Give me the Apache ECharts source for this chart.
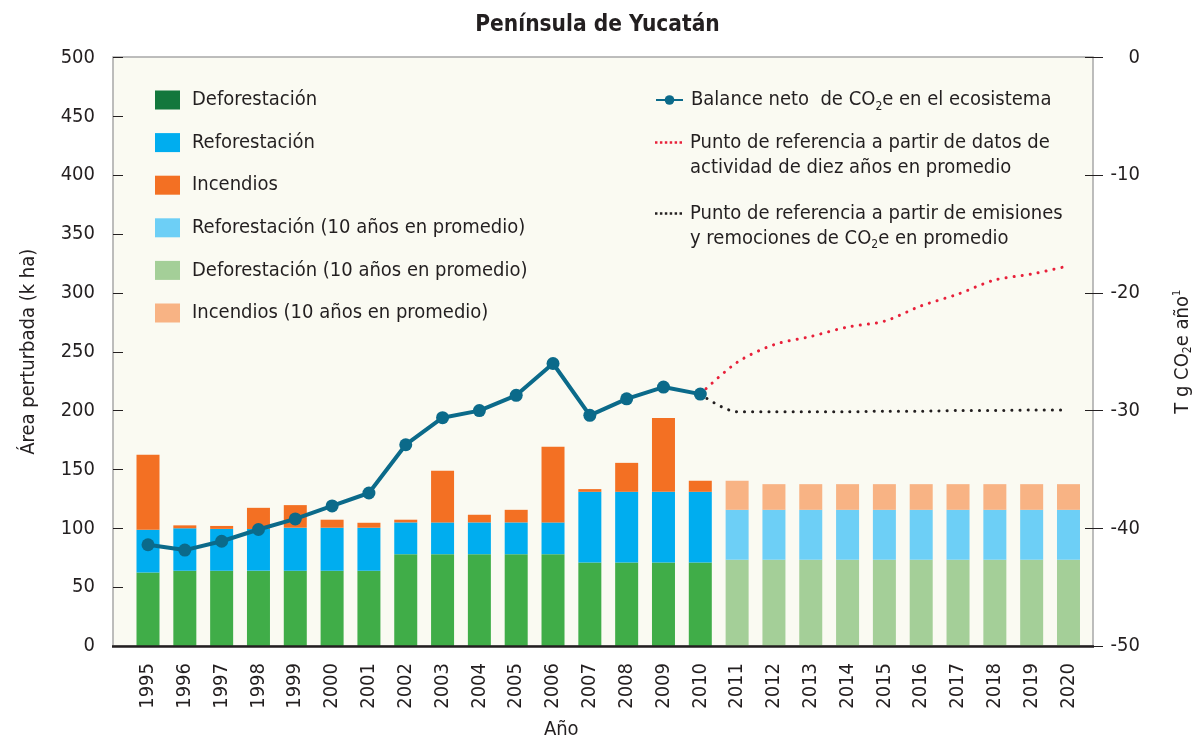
<!DOCTYPE html>
<html><head><meta charset="utf-8">
<script src="https://cdn.jsdelivr.net/npm/echarts@6/dist/echarts.min.js"></script>
<style>html,body{margin:0;padding:0;background:#fff}#c{width:1195px;height:740px}</style>
</head><body><div id="c"></div>
<script>
const years = ['1995','1996','1997','1998','1999','2000','2001','2002','2003','2004','2005','2006','2007','2008','2009','2010','2011','2012','2013','2014','2015','2016','2017','2018','2019','2020'];
const deforestacion = [62.5,64,64,64,64,64,64,78,78,78,78,78,71,71,71,71,null,null,null,null,null,null,null,null,null,null];
const reforestacion = [36.2,36,35.5,35.4,36.5,36.5,36.5,27,27,27,27,27,60,60,60,60,null,null,null,null,null,null,null,null,null,null];
const incendios = [63.7,2.5,2.5,18,19.2,6.8,4.2,2.3,43.8,6.5,10.7,64.2,2.3,24.6,62.8,9.4,null,null,null,null,null,null,null,null,null,null];
const deforestacionProm = [null,null,null,null,null,null,null,null,null,null,null,null,null,null,null,null,73.3,73.3,73.3,73.3,73.3,73.3,73.3,73.3,73.3,73.3];
const reforestacionProm = [null,null,null,null,null,null,null,null,null,null,null,null,null,null,null,null,42.4,42.4,42.4,42.4,42.4,42.4,42.4,42.4,42.4,42.4];
const incendiosProm = [null,null,null,null,null,null,null,null,null,null,null,null,null,null,null,null,24.7,21.8,21.8,21.8,21.8,21.8,21.8,21.8,21.8,21.8];
const balanceNeto = [-41.4,-41.85,-41.1,-40.1,-39.2,-38.1,-37.0,-32.9,-30.6,-30.0,-28.7,-26.0,-30.4,-29.0,-28.0,-28.6,null,null,null,null,null,null,null,null,null,null];
const refActividad = [null,null,null,null,null,null,null,null,null,null,null,null,null,null,null,-28.6,-25.9,-24.4,-23.7,-22.9,-22.4,-21.1,-20.1,-18.9,-18.4,-17.7];
const refEmisiones = [null,null,null,null,null,null,null,null,null,null,null,null,null,null,null,-28.6,-30.1,-30.1,-30.1,-30.1,-30.05,-30.05,-30.0,-30.0,-29.95,-29.95];
const leftTicks = [0,50,100,150,200,250,300,350,400,450,500];
const rightTicks = [-50,-40,-30,-20,-10,0];

const FONT = "'Liberation Sans Narrow','DejaVu Sans Condensed','Liberation Sans',sans-serif";
const FS = 20;
const TXT = '#231f20';
const N = {
  def: 'Deforestación', ref: 'Reforestación', inc: 'Incendios',
  refP: 'Reforestación (10 años en promedio)', defP: 'Deforestación (10 años en promedio)', incP: 'Incendios (10 años en promedio)',
  bal: 'Balance neto  de CO2e en el ecosistema',
  act: 'Punto de referencia a partir de datos de actividad de diez años en promedio',
  emi: 'Punto de referencia a partir de emisiones y remociones de CO2e en promedio'
};
const legendText = {};
legendText[N.bal] = 'Balance neto  de CO{sub|2}e en el ecosistema';
legendText[N.act] = '\nPunto de referencia a partir de datos de\nactividad de diez años en promedio';
legendText[N.emi] = '\nPunto de referencia a partir de emisiones\ny remociones de CO{sub|2}e en promedio';

const subRich = { sub: { fontSize: 12, lineHeight: 2, verticalAlign: 'bottom', color: TXT, fontFamily: FONT } };
const dots = 'path://M0,0h2.5v2.5h-2.5z M5,0h2.5v2.5h-2.5z M10,0h2.5v2.5h-2.5z M15,0h2.5v2.5h-2.5z M20,0h2.5v2.5h-2.5z M25,0h2.5v2.5h-2.5z';

function rightLegend(name, top, iconOpt) {
  return Object.assign({
    orient: 'vertical', left: 655, top: top, padding: 0,
    itemWidth: 27, itemHeight: 12, selectedMode: false,
    data: [name],
    formatter: n => legendText[n],
    textStyle: { fontFamily: FONT, fontSize: FS, lineHeight: 25, color: TXT, padding: [0, 0, 0, 3], rich: subRich }
  }, iconOpt || {});
}

const chart = echarts.init(document.getElementById('c'), null, { renderer: 'canvas' });
const barBase = { type: 'bar', stack: 'total', barWidth: 23, yAxisIndex: 0, xAxisIndex: 0 };
chart.setOption({
  animation: false,
  backgroundColor: '#ffffff',
  textStyle: { fontFamily: FONT, color: TXT },
  title: {
    text: 'Península de Yucatán', left: 'center', top: 14, padding: 0,
    textStyle: { fontFamily: FONT, fontSize: 22.5, fontWeight: 'bold', color: TXT }
  },
  graphic: [
    { type: 'rect', z: -1, shape: { x: 113, y: 57, width: 980, height: 589 },
      style: { fill: '#fafaf2', stroke: '#a8a8a8', lineWidth: 1.5 } },
    { type: 'line', z: 100, shape: { x1: 112, y1: 646.5, x2: 1094, y2: 646.5 },
      style: { stroke: '#231f20', lineWidth: 2.5 } }
  ],
  grid: { left: 129.6, right: 108.1, top: 57.5, bottom: 94, containLabel: false, outerBoundsMode: 'none' },
  legend: [
    {
      orient: 'vertical', left: 155, top: 87.5, padding: 0,
      itemWidth: 25, itemHeight: 19, itemGap: 17.6, icon: 'rect', selectedMode: false,
      data: [
        { name: N.def, itemStyle: { color: '#13773d' } },
        { name: N.ref }, { name: N.inc }, { name: N.refP }, { name: N.defP }, { name: N.incP }
      ],
      textStyle: { fontFamily: FONT, fontSize: FS, lineHeight: 25, color: TXT, padding: [0, 0, 0, 7] }
    },
    rightLegend(N.bal, 87.5),
    rightLegend({ name: N.act, icon: dots, itemStyle: { color: '#e8203a', borderWidth: 0 } }, 105, { itemHeight: 2.5 }),
    rightLegend({ name: N.emi, icon: dots, itemStyle: { color: '#231f20', borderWidth: 0 } }, 176, { itemHeight: 2.5 })
  ],
  xAxis: {
    type: 'category', data: years, boundaryGap: true,
    axisLine: { show: false }, axisTick: { show: false },
    axisLabel: { rotate: 90, interval: 0, margin: 17, fontSize: FS, color: TXT, fontFamily: FONT },
    name: 'Año', nameLocation: 'middle', nameGap: 74,
    nameTextStyle: { fontSize: FS, color: TXT, fontFamily: FONT, padding: [0, 94, 0, 0] }
  },
  yAxis: [
    {
      type: 'value', position: 'left', offset: 16.6,
      min: leftTicks[0], max: leftTicks[leftTicks.length - 1], interval: leftTicks[1] - leftTicks[0],
      axisLine: { show: false }, splitLine: { show: false },
      axisTick: { show: true, inside: true, length: 10, lineStyle: { color: '#231f20', width: 1 } },
      axisLabel: { margin: 18, fontSize: FS, color: TXT, fontFamily: FONT },
      name: 'Área perturbada (k ha)', nameLocation: 'middle', nameRotate: 90, nameGap: 74,
      nameTextStyle: { fontSize: FS, color: TXT, fontFamily: FONT }
    },
    {
      type: 'value', position: 'right', offset: 6.1,
      min: rightTicks[0], max: rightTicks[rightTicks.length - 1], interval: rightTicks[1] - rightTicks[0],
      axisLine: { show: false }, splitLine: { show: false },
      axisTick: { show: true, inside: true, length: 8, lineStyle: { color: '#231f20', width: 1 } },
      axisLabel: { margin: 47, align: 'right', fontSize: FS, color: TXT, fontFamily: FONT },
      name: 'T g CO{sub|2}e año{sup|1}', nameLocation: 'middle', nameRotate: 90, nameGap: 79,
      nameTextStyle: { fontSize: FS, lineHeight: 22, color: TXT, fontFamily: FONT,
        rich: { sub: { fontSize: 12, lineHeight: 2, verticalAlign: 'bottom', color: TXT, fontFamily: FONT },
                sup: { fontSize: 11, lineHeight: 10, verticalAlign: 'top', color: TXT, fontFamily: FONT } } }
    },
    {
      type: 'value', position: 'right', offset: 6.1,
      min: rightTicks[0], max: rightTicks[rightTicks.length - 1], interval: rightTicks[1] - rightTicks[0],
      axisLine: { show: false }, splitLine: { show: false }, axisLabel: { show: false },
      axisTick: { show: true, inside: false, length: 10, lineStyle: { color: '#231f20', width: 1 } }
    }
  ],
  series: [
    Object.assign({}, barBase, { name: N.def, data: deforestacion, itemStyle: { color: '#40ad48' } }),
    Object.assign({}, barBase, { name: N.ref, data: reforestacion, itemStyle: { color: '#00adef' } }),
    Object.assign({}, barBase, { name: N.inc, data: incendios, itemStyle: { color: '#f37023' } }),
    Object.assign({}, barBase, { name: N.defP, data: deforestacionProm, itemStyle: { color: '#a4cf98' } }),
    Object.assign({}, barBase, { name: N.refP, data: reforestacionProm, itemStyle: { color: '#6dcff6' } }),
    Object.assign({}, barBase, { name: N.incP, data: incendiosProm, itemStyle: { color: '#f8b384' } }),
    {
      name: N.act, type: 'line', yAxisIndex: 1, data: refActividad, smooth: 0.3, symbol: 'none', z: 3,
      itemStyle: { color: '#e8203a' },
      lineStyle: { color: '#e8203a', width: 3, type: [0.1, 8], cap: 'round' }
    },
    {
      name: N.emi, type: 'line', yAxisIndex: 1, data: refEmisiones, smooth: 0.3, symbol: 'none', z: 3,
      itemStyle: { color: '#231f20' },
      lineStyle: { color: '#231f20', width: 3, type: [0.1, 8], cap: 'round' }
    },
    {
      name: N.bal, type: 'line', yAxisIndex: 1, data: balanceNeto, symbol: 'circle', symbolSize: 13, z: 5,
      itemStyle: { color: '#0b6a8a' },
      lineStyle: { color: '#0b6a8a', width: 4 }
    }
  ]
});
</script>
</body></html>
